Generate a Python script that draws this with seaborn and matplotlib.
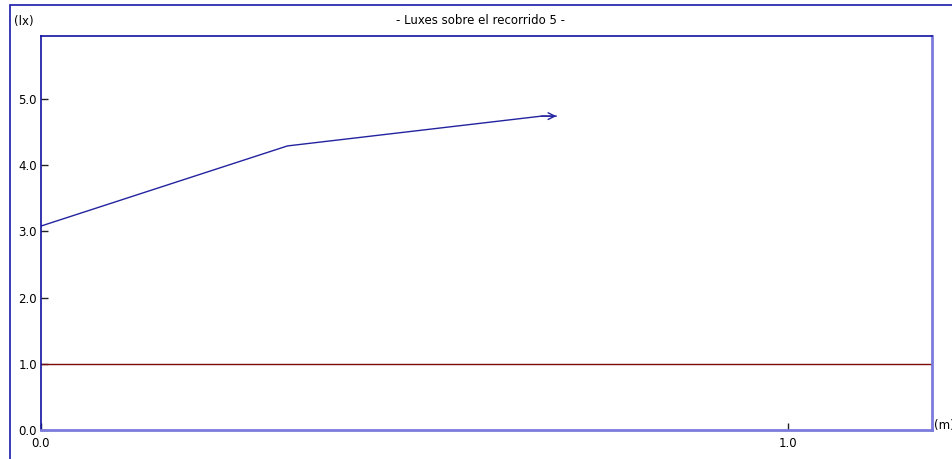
import matplotlib
matplotlib.use("Agg")
import matplotlib.pyplot as plt
import seaborn as sns
import pandas as pd
from matplotlib.patches import Rectangle

# data
dist_m = [0.0, 0.33, 0.67, 0.69]
luxes = [3.08, 4.29, 4.74, 4.74]
ref_level = 1.0
y_ticks = [0.0, 1.0, 2.0, 3.0, 4.0, 5.0]
x_ticks = [0.0, 1.0]

sns.set_style("white")
plt.rcParams["font.family"] = ["DejaVu Sans"]

df = pd.DataFrame({"x": dist_m, "y": luxes})

fig = plt.figure(figsize=(9.52, 4.59), dpi=100)
ax = fig.add_axes([41 / 952, 1 - 430 / 459, (932 - 41) / 952, (430 - 36) / 459])

# outer frame
fig.patches.append(Rectangle((10 / 952, -0.1), 1.1, 1 - 5 / 459 + 0.1,
                             transform=fig.transFigure, fill=False,
                             edgecolor="#1a1aa8", linewidth=1.2))

sns.lineplot(data=df, x="x", y="y", ax=ax, color="#2323a0", linewidth=1.0,
             sort=False, estimator=None)
ax.annotate("", xy=(dist_m[-1], luxes[-1]), xytext=(dist_m[-2], luxes[-2]),
            arrowprops=dict(arrowstyle="->", color="#2323a0", lw=1.0,
                            mutation_scale=12, shrinkA=0, shrinkB=0))

ax.axhline(ref_level, color="#7a0a0a", linewidth=1.0)

ax.set_xlim(0, 1.193)
ax.set_ylim(0, 5.95)
ax.set_xticks(x_ticks)
ax.set_yticks(y_ticks)
ax.set_xticklabels([f"{v:.1f}" for v in x_ticks])
ax.set_yticklabels([f"{v:.1f}" for v in y_ticks])
ax.tick_params(direction="in", length=5, width=1, color="#222222",
               labelcolor="black", labelsize=8.5, pad=3,
               bottom=True, left=True)
ax.tick_params(axis="x", pad=5)
ax.set_xlabel("")
ax.set_ylabel("")

for side in ["left", "top"]:
    ax.spines[side].set_color("#1010a0")
    ax.spines[side].set_linewidth(1.2)
for side in ["right", "bottom"]:
    ax.spines[side].set_color("#7b7bdc")
    ax.spines[side].set_linewidth(2.0)

fig.text(481 / 952, 1 - 21 / 459, "- Luxes sobre el recorrido 5 -",
         ha="center", va="center", fontsize=8.5, color="black")
fig.text(24 / 952, 1 - 21 / 459, "(lx)", ha="center", va="center",
         fontsize=8.5, color="black")
fig.text(934 / 952, 1 - 426 / 459, "(m)", ha="left", va="center",
         fontsize=8.5, color="black")

fig.savefig("out.png", dpi=100)
